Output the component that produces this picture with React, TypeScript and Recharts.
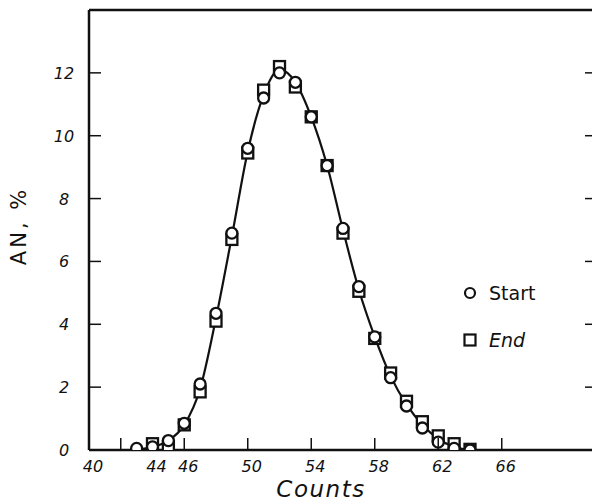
import { ComposedChart, XAxis, YAxis, Scatter, Line, Label } from "recharts";

// counts on the x axis
const START_COUNTS = [43, 44, 45, 46, 47, 48, 49, 50, 51, 52, 53, 54, 55, 56, 57, 58, 59, 60, 61, 62, 63, 64];
const START_VALUES = [0.05, 0.1, 0.3, 0.85, 2.1, 4.35, 6.9, 9.6, 11.2, 12.0, 11.7, 10.6, 9.05, 7.05, 5.2, 3.6, 2.3, 1.4, 0.7, 0.25, 0.05, 0.0];

const END_COUNTS = [44, 45, 46, 47, 48, 49, 50, 51, 52, 53, 54, 55, 56, 57, 58, 59, 60, 61, 62, 63, 64];
const END_VALUES = [0.2, 0.1, 0.8, 1.85, 4.1, 6.7, 9.45, 11.45, 12.2, 11.55, 10.6, 9.05, 6.9, 5.05, 3.55, 2.45, 1.55, 0.9, 0.45, 0.2, 0.02];

// hand drawn curve through the points
const CURVE_COUNTS = [43, 44, 45, 46, 47, 48, 49, 50, 51, 52, 53, 54, 55, 56, 57, 58, 59, 60, 61, 62, 63, 64];
const CURVE_VALUES = [0, 0.1, 0.3, 0.8, 1.95, 4.2, 6.8, 9.5, 11.3, 12.1, 11.7, 10.6, 9.05, 7.0, 5.1, 3.6, 2.35, 1.45, 0.8, 0.35, 0.1, 0.0];

const X_TICKS = [40, 42, 44, 46, 50, 54, 58, 62, 66];
const X_MARKS = [42, 46, 50, 54, 58, 62, 66];
const X_LABELS = [40, 44, 46, 50, 54, 58, 62, 66];
const Y_TICKS = [0, 2, 4, 6, 8, 10, 12];
const Y_MARKS = [2, 4, 6, 8, 10, 12];

const startData = START_COUNTS.map((c, i) => ({ count: c, value: START_VALUES[i] }));
const endData = END_COUNTS.map((c, i) => ({ count: c, value: END_VALUES[i] }));
const curveData = CURVE_COUNTS.map((c, i) => ({ count: c, value: CURVE_VALUES[i] }));

const INK = "#111";
const tickFont = { fontFamily: "DejaVu Sans", fontStyle: "italic" as const, fontSize: 16, fill: INK };

const BottomTick = (props: any) => {
  const { x, y, payload } = props;
  const v = payload.value;
  return (
    <g>
      {X_MARKS.includes(v) && <line x1={x} y1={y} x2={x} y2={y - 12} stroke={INK} strokeWidth={1.5} />}
      {X_LABELS.includes(v) && (
        <text x={x + 4} y={y + 22} textAnchor="middle" {...tickFont}>
          {v}
        </text>
      )}
    </g>
  );
};

const TopTick = (props: any) => {
  const { x, y, payload } = props;
  if (!X_MARKS.includes(payload.value)) return <g />;
  return <line x1={x} y1={y} x2={x} y2={y + 14} stroke={INK} strokeWidth={1.5} />;
};

const LeftTick = (props: any) => {
  const { x, y, payload } = props;
  const v = payload.value;
  return (
    <g>
      {v !== 0 && <line x1={x} y1={y} x2={x + 12} y2={y} stroke={INK} strokeWidth={1.5} />}
      <text x={x - 25} y={y + 6} textAnchor="middle" {...tickFont}>
        {v}
      </text>
    </g>
  );
};

const RightTick = (props: any) => {
  const { x, y } = props;
  return <line x1={x} y1={y} x2={x - 12} y2={y} stroke={INK} strokeWidth={1.5} />;
};

const CircleDot = (props: any) => (
  <circle cx={props.cx} cy={props.cy} r={5.5} fill="#fff" stroke={INK} strokeWidth={2.3} />
);

const SquareDot = (props: any) => (
  <rect x={props.cx - 5.5} y={props.cy - 5.5} width={11} height={11} fill="#fff" stroke={INK} strokeWidth={2.3} />
);

export default function App() {
  return (
    <div style={{ position: "fixed", left: 0, top: 0, width: 592, height: 503, overflow: "hidden", background: "#fff" }}>
      <ComposedChart width={600} height={503} margin={{ top: 9, right: 2, bottom: 0, left: 0 }}>
        <XAxis
          xAxisId="b"
          dataKey="count"
          type="number"
          domain={[40, 72]}
          ticks={X_TICKS}
          interval={0}
          height={53}
          tickSize={0}
          tickMargin={0}
          tickLine={false}
          axisLine={{ stroke: INK, strokeWidth: 2.5 }}
          tick={BottomTick}
          allowDataOverflow
        >
          <Label
            content={(p: any) => (
              <text
                x={p.viewBox.x + 232}
                y={p.viewBox.y + 47}
                textAnchor="middle"
                fontFamily="DejaVu Sans"
                fontStyle="italic"
                fontSize={23}
                letterSpacing={1.5}
                fill={INK}
              >
                Counts
              </text>
            )}
          />
        </XAxis>
        <XAxis
          xAxisId="t"
          orientation="top"
          type="number"
          domain={[40, 72]}
          ticks={X_MARKS}
          interval={0}
          height={1}
          tickSize={0}
          tickMargin={0}
          tickLine={false}
          axisLine={{ stroke: INK, strokeWidth: 2.5 }}
          tick={TopTick}
          allowDataOverflow
        />
        <YAxis
          yAxisId="l"
          type="number"
          domain={[0, 14]}
          ticks={Y_TICKS}
          interval={0}
          width={89}
          tickSize={0}
          tickMargin={0}
          tickLine={false}
          axisLine={{ stroke: INK, strokeWidth: 2.5 }}
          tick={LeftTick}
          allowDataOverflow
        >
          <Label
            content={(p: any) => {
              const cx = 19;
              const cy = p.viewBox.y + p.viewBox.height / 2 - 4;
              return (
                <text
                  x={cx}
                  y={cy}
                  transform={`rotate(-90, ${cx}, ${cy})`}
                  textAnchor="middle"
                  dominantBaseline="central"
                  fontFamily="DejaVu Sans"
                  fontSize={21}
                  letterSpacing={3}
                  fill={INK}
                >
                  AN, %
                </text>
              );
            }}
          />
        </YAxis>
        <YAxis
          yAxisId="r"
          orientation="right"
          type="number"
          domain={[0, 14]}
          ticks={Y_MARKS}
          interval={0}
          width={1}
          tickSize={0}
          tickMargin={0}
          tickLine={false}
          axisLine={{ stroke: INK, strokeWidth: 2.5 }}
          tick={RightTick}
          allowDataOverflow
        />
        <Line
          xAxisId="b"
          yAxisId="l"
          data={curveData}
          dataKey="value"
          type="monotone"
          stroke={INK}
          strokeWidth={2.2}
          dot={false}
          activeDot={false}
          isAnimationActive={false}
        />
        <Scatter xAxisId="b" yAxisId="l" name="End" data={endData} dataKey="value" shape={SquareDot} isAnimationActive={false} />
        <Scatter xAxisId="b" yAxisId="l" name="Start" data={startData} dataKey="value" shape={CircleDot} isAnimationActive={false} />
      </ComposedChart>
      <div
        style={{
          position: "absolute",
          left: 463,
          top: 279,
          fontFamily: "DejaVu Sans",
          fontSize: 19,
          color: INK,
        }}
      >
        <div style={{ display: "flex", alignItems: "center" }}>
          <svg width={16} height={16} style={{ marginRight: 10 }}>
            <circle cx={7} cy={8} r={5} fill="#fff" stroke={INK} strokeWidth={2.2} />
          </svg>
          <span style={{ lineHeight: "28px" }}>Start</span>
        </div>
        <div style={{ display: "flex", alignItems: "center", marginTop: 19 }}>
          <svg width={16} height={16} style={{ marginRight: 10 }}>
            <rect x={1.5} y={2.5} width={11} height={11} fill="#fff" stroke={INK} strokeWidth={2.2} />
          </svg>
          <span style={{ lineHeight: "28px", fontStyle: "italic" }}>End</span>
        </div>
      </div>
    </div>
  );
}
